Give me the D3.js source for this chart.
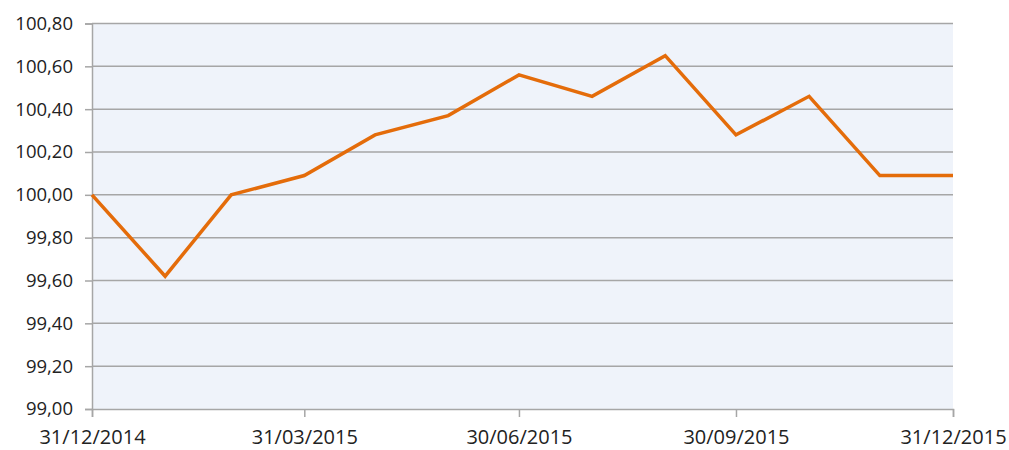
<!DOCTYPE html>
<html>
<head>
<meta charset="utf-8">
<script src="https://cdn.jsdelivr.net/npm/d3@7"></script>
<style>
  body { margin: 0; background: #fff; }
  text { font-family: "Open Sans", sans-serif; fill: #262626; }
</style>
</head>
<body>
<svg id="svg" width="1009" height="450"></svg>
<script>
// month-end dates and index values
const dates = ["31/12/2014", "31/01/2015", "28/02/2015", "31/03/2015", "30/04/2015", "31/05/2015",
    "30/06/2015", "31/07/2015", "31/08/2015", "30/09/2015", "31/10/2015", "30/11/2015", "31/12/2015"];
const values = [100.00, 99.62, 100.00, 100.09, 100.28, 100.37, 100.56, 100.46, 100.65, 100.28, 100.46, 100.09, 100.09];
const xTickLabels = ["31/12/2014", "31/03/2015", "30/06/2015", "30/09/2015", "31/12/2015"];
const yTicks = [99.0, 99.2, 99.4, 99.6, 99.8, 100.0, 100.2, 100.4, 100.6, 100.8];

const parse = d3.timeParse("%d/%m/%Y");
const fmt = d3.timeFormat("%d/%m/%Y");

const plotLeft = 92, plotRight = 953, plotTop = 23.5, plotBottom = 409;

const x = d3.scaleTime()
    .domain([parse(dates[0]), parse(dates[dates.length - 1])])
    .range([plotLeft, plotRight]);
const y = d3.scaleLinear().domain([99.0, 100.8]).range([plotBottom, plotTop]);

const svg = d3.select("#svg");

svg.append("rect")
    .attr("x", plotLeft).attr("y", plotTop)
    .attr("width", plotRight - plotLeft).attr("height", plotBottom - plotTop)
    .style("fill", "#eff3fa");

// gridlines
svg.append("g").selectAll("line")
    .data(yTicks.slice(1))
    .join("line")
    .attr("x1", plotLeft).attr("x2", plotRight)
    .attr("y1", d => y(d)).attr("y2", d => y(d))
    .style("stroke", "#a6a6a6")
    .style("stroke-width", 1.5);

const comma = d => d3.format(".2f")(d).replace(".", ",");

const yAxis = svg.append("g")
    .attr("transform", "translate(" + plotLeft + ",0)")
    .call(d3.axisLeft(y).tickValues(yTicks).tickFormat(comma).tickSize(7).tickPadding(12));

const xAxis = svg.append("g")
    .attr("transform", "translate(0," + plotBottom + ")")
    .call(d3.axisBottom(x).tickValues(xTickLabels.map(parse)).tickFormat(fmt).tickSize(8).tickPadding(13));

[yAxis, xAxis].forEach(a => {
    a.select(".domain").style("stroke", "#a6a6a6").style("stroke-width", 1.5);
    a.selectAll(".tick line").style("stroke", "#a6a6a6").style("stroke-width", 1.5);
    a.selectAll(".tick text").style("fill", "#222")
        .style("font-family", "'Open Sans', sans-serif");
});
yAxis.selectAll(".tick text").style("font-size", "18.5px");
xAxis.selectAll(".tick text").style("font-size", "20px");

const line = d3.line()
    .x((d, i) => x(parse(dates[i])))
    .y(d => y(d));

svg.append("path")
    .datum(values)
    .attr("d", line)
    .style("fill", "none")
    .style("stroke", "#e46c0a")
    .style("stroke-width", 3.5)
    .style("stroke-linejoin", "miter");
</script>
</body>
</html>
